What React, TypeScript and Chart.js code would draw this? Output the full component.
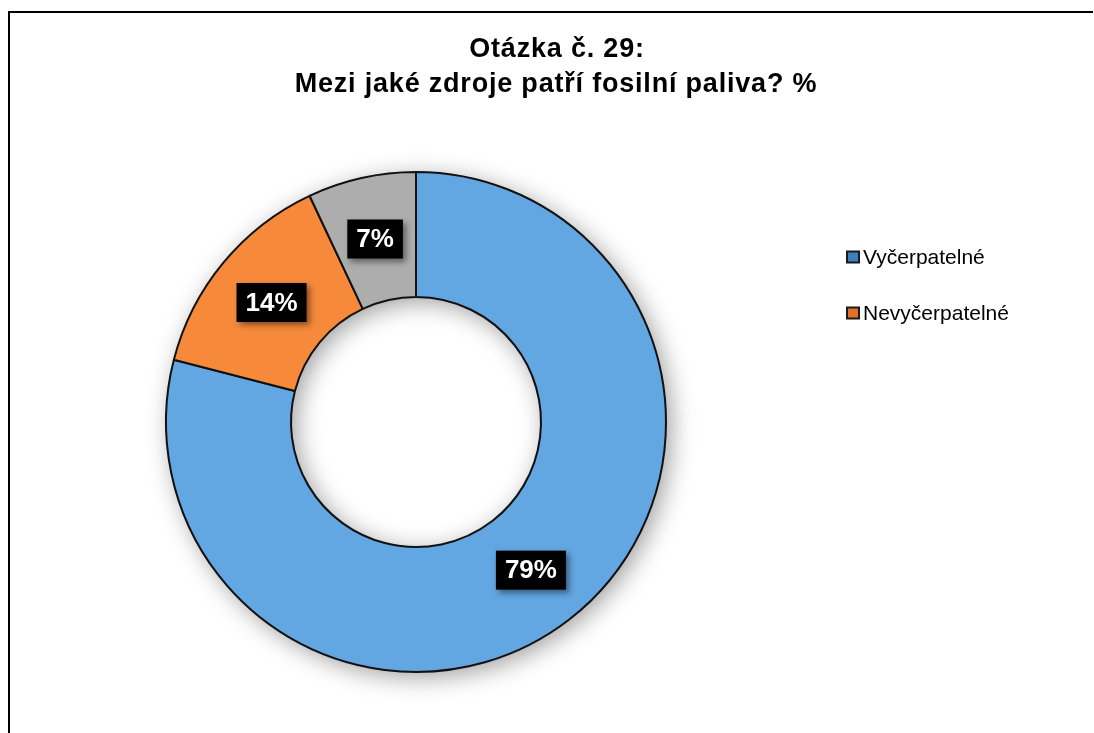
import React, { useEffect, useRef } from "react";
import { Chart, registerables } from "chart.js";

Chart.register(...registerables);

const titleLines = ["Otázka č. 29:", "Mezi jaké zdroje patří fosilní paliva? %"];
const categories = ["Vyčerpatelné", "Nevyčerpatelné", ""];
const values = [79, 14, 7];
const colors = ["#62a6e2", "#f78a3a", "#adadad"];
const legendSwatch = ["#3f7fc0", "#e0722a", "#999999"];

const W = 1094;
const H = 733;

const framePlugin = {
  id: "frame",
  beforeDraw(chart: any) {
    const ctx = chart.ctx;
    ctx.save();
    ctx.fillStyle = "#ffffff";
    ctx.fillRect(0, 0, W, H);
    ctx.strokeStyle = "#000000";
    ctx.lineWidth = 2;
    ctx.beginPath();
    ctx.moveTo(9, H);
    ctx.lineTo(9, 12);
    ctx.lineTo(1093, 12);
    ctx.stroke();
    // title
    ctx.fillStyle = "#000000";
    ctx.font = "bold 27px 'Liberation Sans', Arial, sans-serif";
    ctx.textAlign = "center";
    ctx.textBaseline = "alphabetic";
    (ctx as any).letterSpacing = "0.8px";
    ctx.fillText(titleLines[0], 557, 57);
    ctx.fillText(titleLines[1], 556, 92);
    (ctx as any).letterSpacing = "0px";
    // legend
    ctx.font = "21px 'Liberation Sans', Arial, sans-serif";
    ctx.textAlign = "left";
    ctx.textBaseline = "middle";
    let y = 257;
    categories.forEach((c, i) => {
      if (!c) return;
      ctx.fillStyle = "#1a1a1a";
      ctx.fillRect(846, y - 6.5, 14, 13);
      ctx.fillStyle = legendSwatch[i];
      ctx.fillRect(848, y - 4.5, 10, 9);
      ctx.fillStyle = "#000000";
      ctx.fillText(c, 863, y + 1);
      y += 56;
    });
    ctx.restore();
  },
};

const shadowPlugin = {
  id: "ringShadow",
  beforeDatasetsDraw(chart: any) {
    const meta = chart.getDatasetMeta(0);
    const arc = meta.data[0];
    if (!arc) return;
    const { x, y, outerRadius, innerRadius } = arc.getProps(["x", "y", "outerRadius", "innerRadius"], true);
    const ctx = chart.ctx;
    ctx.save();
    ctx.shadowColor = "rgba(0,0,0,0.38)";
    ctx.shadowBlur = 24;
    ctx.shadowOffsetX = 5;
    ctx.shadowOffsetY = 5;
    ctx.fillStyle = "#ffffff";
    ctx.beginPath();
    ctx.arc(x, y, outerRadius, 0, Math.PI * 2);
    ctx.arc(x, y, innerRadius, 0, Math.PI * 2, true);
    ctx.fill();
    ctx.restore();
  },
  afterDatasetsDraw(chart: any) {
    const meta = chart.getDatasetMeta(0);
    const ctx = chart.ctx;
    ctx.save();
    ctx.font = "bold 26px 'Liberation Sans', Arial, sans-serif";
    ctx.textAlign = "center";
    ctx.textBaseline = "middle";
    meta.data.forEach((el: any, i: number) => {
      const p = el.tooltipPosition();
      const text = values[i] + "%";
      const tw = ctx.measureText(text).width;
      const bw = tw + 18;
      const bh = 39;
      ctx.save();
      ctx.shadowColor = "rgba(0,0,0,0.45)";
      ctx.shadowBlur = 6;
      ctx.shadowOffsetX = 3;
      ctx.shadowOffsetY = 3;
      ctx.fillStyle = "#000000";
      ctx.fillRect(p.x - bw / 2, p.y - bh / 2, bw, bh);
      ctx.restore();
      ctx.fillStyle = "#ffffff";
      ctx.fillText(text, p.x, p.y + 1);
    });
    ctx.restore();
  },
};

export default function App() {
  const ref = useRef<HTMLCanvasElement | null>(null);
  useEffect(() => {
    if (!ref.current) return;
    const chart = new Chart(ref.current, {
      type: "doughnut",
      data: {
        labels: categories,
        datasets: [
          {
            data: values,
            backgroundColor: colors,
            borderColor: "#111111",
            borderWidth: 2,
          },
        ],
      },
      options: {
        responsive: false,
        animation: false,
        devicePixelRatio: 1,
        cutout: "50%",
        layout: { padding: { left: 165, right: 427, top: 171, bottom: 60 } },
        plugins: {
          legend: { display: false },
          title: { display: false },
          tooltip: { enabled: false },
        },
      },
      plugins: [framePlugin, shadowPlugin],
    });
    return () => chart.destroy();
  }, []);
  return (
    <canvas
      ref={ref}
      width={W}
      height={H}
      style={{ position: "fixed", left: 0, top: 0, display: "block" }}
    />
  );
}
